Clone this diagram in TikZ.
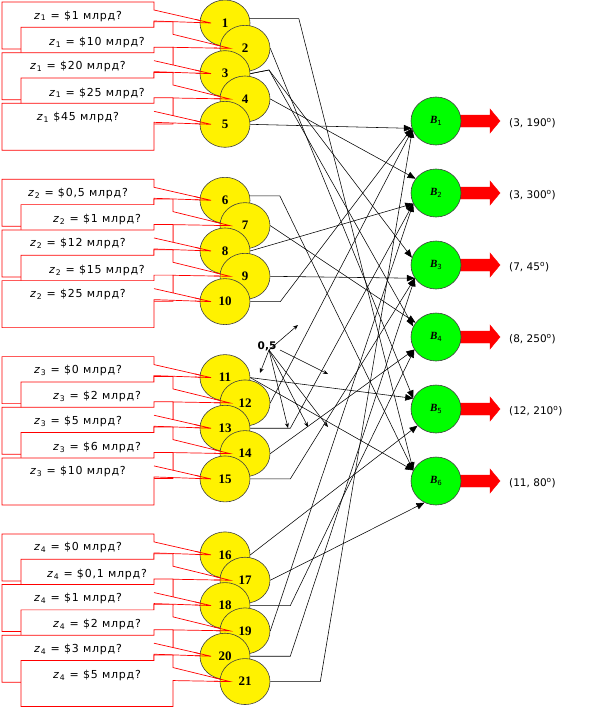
\documentclass[tikz,border=0pt]{standalone}
\usepackage{fontspec}
\setmainfont{DejaVu Sans}
\newfontfamily\serifb{Liberation Serif}
\newfontfamily\cfont[LetterSpace=7]{DejaVu Sans}
\usetikzlibrary{arrows.meta,shapes.geometric}
\begin{document}
\begin{tikzpicture}[x=1pt,y=-1pt,
  yel/.style={ellipse,draw=black!75,fill=yellow,line width=0.6pt,minimum width=50pt,minimum height=46pt,inner sep=0pt,font=\serifb\bfseries\fontsize{13}{13}\selectfont},
  grn/.style={ellipse,draw=black!75,fill=green,line width=0.6pt,minimum width=50pt,minimum height=48pt,inner sep=0pt},
  co/.style={draw=red,fill=white,line width=0.7pt,line join=miter},
  cl/.style={draw=red,line width=0.7pt},
  ctext/.style={font=\cfont\fontsize{11}{11}\selectfont,inner sep=0pt},
  edge/.style={draw=black,line width=0.55pt,-{Triangle[length=8pt,width=6.5pt]}},
  wedge/.style={draw=black,line width=0.55pt,-{Stealth[length=5pt,width=4pt]}},
  rarrow/.style={fill=red,draw=red,line width=0.4pt},
  lab/.style={anchor=west,font=\fontsize{10.5}{10.5}\selectfont,inner sep=0pt}]
\useasboundingbox (0,0) rectangle (608,712);
\fill[white] (0,0) rectangle (608,712);
% callouts
\foreach \k/\g/\txt in {
 0/0/{\textit{z}\textsubscript{1} = \$1 млрд?},
 1/0/{\textit{z}\textsubscript{1} = \$10 млрд?},
 2/0/{\textit{z}\textsubscript{1} = \$20 млрд?},
 3/0/{\textit{z}\textsubscript{1} = \$25 млрд?},
 4/0/{\textit{z}\textsubscript{1} \$45 млрд?},
 0/1/{\textit{z}\textsubscript{2} = \$0,5 млрд?},
 1/1/{\textit{z}\textsubscript{2} = \$1 млрд?},
 2/1/{\textit{z}\textsubscript{2} = \$12 млрд?},
 3/1/{\textit{z}\textsubscript{2} = \$15 млрд?},
 4/1/{\textit{z}\textsubscript{2} = \$25 млрд?},
 0/2/{\textit{z}\textsubscript{3} = \$0 млрд?},
 1/2/{\textit{z}\textsubscript{3} = \$2 млрд?},
 2/2/{\textit{z}\textsubscript{3} = \$5 млрд?},
 3/2/{\textit{z}\textsubscript{3} = \$6 млрд?},
 4/2/{\textit{z}\textsubscript{3} = \$10 млрд?},
 0/3/{\textit{z}\textsubscript{4} = \$0 млрд?},
 1/3/{\textit{z}\textsubscript{4} = \$0,1 млрд?},
 2/3/{\textit{z}\textsubscript{4} = \$1 млрд?},
 3/3/{\textit{z}\textsubscript{4} = \$2 млрд?},
 4/3/{\textit{z}\textsubscript{4} = \$3 млрд?},
 5/3/{\textit{z}\textsubscript{4} = \$5 млрд?}}{
  \pgfmathsetmacro\yt{2+25.33*\k+177.3*\g}
  \pgfmathtruncatemacro\ev{mod(\k,2)}
  \ifnum\ev=0
    \ifnum\k=0
      \draw[co] (2,\yt) -- (154,\yt) -- (154,\yt+8) -- (211,\yt+21) -- (154,\yt+19) -- (154,\yt+47) -- (2,\yt+47) -- cycle;
    \else
      \draw[co] (2,\yt) -- (154,\yt) -- (154,\yt-5.5) -- (173,\yt-5.5) -- (173,\yt+12.3) -- (211,\yt+21) -- (154,\yt+19) -- (154,\yt+47) -- (2,\yt+47) -- cycle;
      \draw[cl] (154,\yt+8) -- (173,\yt+12.3);
    \fi
    \node[ctext] at (78,\yt+14) {\txt};
  \else
    \draw[co] (21,\yt) -- (154,\yt) -- (154,\yt-5.5) -- (173,\yt-5.5) -- (173,\yt+7) -- (230,\yt+21) -- (173,\yt+20) -- (173,\yt+46) -- (21,\yt+46) -- cycle;
    \node[ctext] at (97,\yt+15) {\txt};
  \fi
}
% yellow nodes
\foreach \k/\g/\n in {0/0/1,1/0/2,2/0/3,3/0/4,4/0/5,0/1/6,1/1/7,2/1/8,3/1/9,4/1/10,0/2/11,1/2/12,2/2/13,3/2/14,4/2/15,0/3/16,1/3/17,2/3/18,3/3/19,4/3/20,5/3/21}{
  \pgfmathsetmacro\yy{23+25.33*\k+177.3*\g}
  \pgfmathsetmacro\xx{225+20*mod(\k,2)}
  \node[yel] (n\n) at (\xx,\yy) {\n};
}
% wedge tips over the nodes
\foreach \k/\g in {0/0,1/0,2/0,3/0,4/0,0/1,1/1,2/1,3/1,4/1,0/2,1/2,2/2,3/2,4/2,0/3,1/3,2/3,3/3,4/3,5/3}{
  \pgfmathsetmacro\yt{2+25.33*\k+177.3*\g}
  \pgfmathtruncatemacro\ev{mod(\k,2)}
  \ifnum\ev=0
    \draw[cl] (195,\yt+17.35) -- (211,\yt+21) -- (195,\yt+20.44);
  \else
    \draw[cl] (214,\yt+17.07) -- (230,\yt+21) -- (214,\yt+20.72);
  \fi
}
% red block arrows and green nodes
\foreach \i/\t in {1/{(3, 190\textsuperscript{o})},2/{(3, 300\textsuperscript{o})},3/{(7, 45\textsuperscript{o})},4/{(8, 250\textsuperscript{o})},5/{(12, 210\textsuperscript{o})},6/{(11, 80\textsuperscript{o})}}{
  \pgfmathsetmacro\yc{121+72*(\i-1)}
  \draw[rarrow] (450,\yc-6) -- (490,\yc-6) -- (490,\yc-12) -- (500,\yc) -- (490,\yc+12) -- (490,\yc+6) -- (450,\yc+6) -- cycle;
  \node[grn] (B\i) at (436,\yc) {{\serifb\bfseries\itshape\fontsize{11}{11}\selectfont B}{\fontsize{7}{7}\selectfont\raisebox{-2pt}{\i}}};
  \node[lab] (L\i) at (509,\yc+2) {\t};
}
% connectors
\draw[edge] (n1.10) -- ++(49,0) -- (B6.155);
\draw[edge] (n2.east) -- (B5.155);
\draw[edge] (n3.east) -- (269,70) -- (B3.163);
\draw[edge] (n3.east) -- (269,70) -- (B4.155);
\draw[edge] (n4.east) -- (B2.145);
\draw[edge] (n5.east) -- (B1.197);
\draw[edge] (n6.10) -- ++(30,0) -- (B6.155);
\draw[edge] (n7.east) -- (B4.145);
\draw[edge] (n8.east) -- (B2.205);
\draw[edge] (n9.east) -- (B3.212);
\draw[edge] (n10.east) -- ++(30,0) -- (B1.197);
\draw[edge] (n11.east) -- (B5.155);
\draw[edge] (n11.east) -- (B6.155);
\draw[edge] (n12.east) -- (B1.200);
\draw[edge] (n13.east) -- ++(40,0) -- (B2.205);
\draw[edge] (n14.east) -- (B4.210);
\draw[edge] (n15.east) -- ++(40,0) -- (B3.212);
\draw[edge] (n16.east) -- (B5.222);
\draw[edge] (n17.east) -- (B6.242);
\draw[edge] (n18.east) -- ++(40,0) -- (B4.210);
\draw[edge] (n19.east) -- (B2.205);
\draw[edge] (n20.east) -- ++(40,0) -- (B3.212);
\draw[edge] (n21.east) -- ++(50,0) -- (B1.200);
% weight 0,5
\node[font=\bfseries\fontsize{10.5}{10.5}\selectfont,inner sep=0pt] (w) at (267,346) {0,5};
\coordinate (w0) at (269,350);
\draw[wedge] (w0) -- (298,325);
\draw[wedge] (w0) -- (260,373);
\draw[wedge] (280,350) -- (328,374);
\draw[wedge] (w0) -- (288,428);
\draw[wedge] (w0) -- (308,427);
\draw[wedge] (w0) -- (328,427);
\end{tikzpicture}
\end{document}
